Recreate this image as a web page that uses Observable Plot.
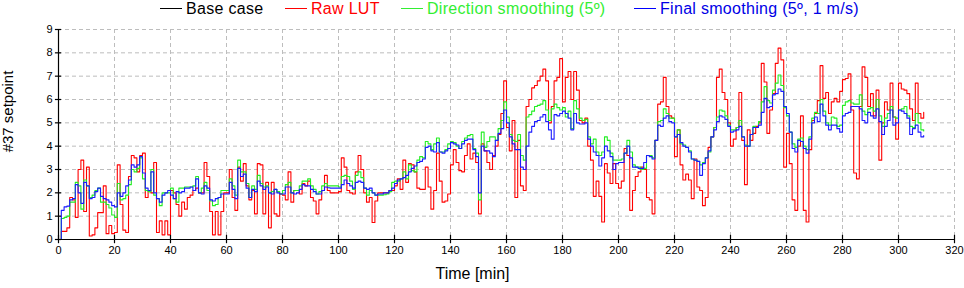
<!DOCTYPE html>
<html><head><meta charset="utf-8">
<script src="https://cdn.jsdelivr.net/npm/d3@7"></script>
<script src="https://cdn.jsdelivr.net/npm/@observablehq/plot@0.6"></script>
<style>
body{margin:0;background:#fff;font-family:"Liberation Sans",Arial,sans-serif}
#wrap{position:relative;width:964px;height:288px;overflow:hidden;background:#fff}
#legend{position:relative;height:18px}
.item{position:absolute;top:0px;font-size:16px;line-height:normal;letter-spacing:0.3px;white-space:nowrap}
.sw{position:absolute;top:8px;height:1px;width:22px}
#chart svg{display:block}
</style></head><body>
<div id="wrap"><div id="legend"></div><div id="chart"></div></div>
<script>
const legendLabels = ["Base case", "Raw LUT", "Direction smoothing (5º)", "Final smoothing (5º, 1 m/s)"];
const legendColors = ["#000000", "#ff0000", "#33ee33", "#0000ff"];
const legendTextColors = ["#000000", "#ff0000", "#33ee33", "#0000e6"];
const legendLeft = [160, 285, 401, 634];

const xTicks = [0, 20, 40, 60, 80, 100, 120, 140, 160, 180, 200, 220, 240, 260, 280, 300, 320];
const yTicks = [0, 1, 2, 3, 4, 5, 6, 7, 8, 9];

const rawLUT = [
0, 0.35, 0.35, 0.5, 1.8, 1.7, 0.95, 3.0, 3.4, 1.2,
3.1, 0.15, 0.2, 0.5, 1.15, 1.15, 2.3, 0.25, 0.6, 0.25,
0.3, 3.2, 1.5, 0.4, 0.3, 2.7, 3.6, 3.5, 2.9, 3.6,
3.7, 1.8, 2.1, 2.0, 3.3, 0.3, 0.8, 0.2, 0.8, 0.2,
2.1, 2.0, 1.5, 1.0, 1.6, 1.3, 1.8, 1.9, 2.1, 2.2,
2.0, 2.0, 3.3, 2.7, 1.2, 0.2, 1.2, 0.2, 1.2, 2.0,
2.0, 3.0, 1.8, 1.25, 3.1, 2.5, 3.25, 2.3, 1.7, 2.1,
1.1, 3.25, 3.2, 1.1, 2.45, 0.5, 2.45, 1.1, 1.0, 1.95,
1.9, 1.7, 2.9, 1.6, 2.1, 2.1, 1.95, 2.4, 2.3, 2.5,
1.8, 1.65, 1.1, 1.7, 2.1, 2.75, 2.1, 2.0, 2.0, 2.0,
2.05, 3.5, 3.1, 2.1, 2.0, 1.95, 2.9, 3.6, 3.0, 2.0,
1.6, 1.8, 0.73, 1.65, 2.0, 2.0, 2.0, 2.0, 2.1, 2.1,
2.3, 2.6, 2.15, 3.4, 2.45, 3.25, 3.2, 2.9, 2.2, 2.15,
2.15, 3.1, 2.25, 1.3, 2.1, 3.7, 2.5, 1.6, 1.65, 1.95,
3.2, 3.85, 3.3, 2.95, 2.9, 3.6, 4.1, 3.45, 3.7, 3.3,
1.1, 4.1, 3.8, 3.3, 3.0, 3.6, 4.0, 4.5, 5.4, 6.8,
4.8, 3.8, 5.1, 1.8, 4.25, 2.3, 2.1, 5.7, 6.0, 6.5,
6.6, 6.8, 7.0, 7.3, 6.8, 5.0, 5.7, 6.8, 6.95, 7.75,
5.9, 6.95, 7.2, 6.0, 7.2, 6.4, 5.1, 5.0, 5.2, 4.0,
3.4, 1.85, 2.5, 1.85, 0.75, 3.25, 2.85, 2.4, 3.25, 2.4,
2.2, 2.5, 3.9, 3.6, 1.25, 2.1, 2.7, 2.9, 3.1, 3.0,
1.8, 1.7, 1.1, 4.25, 5.8, 5.9, 6.95, 5.7, 5.3, 5.2,
3.55, 4.7, 3.2, 2.55, 2.8, 2.55, 1.75, 3.45, 2.25, 2.1,
1.45, 1.8, 3.95, 4.4, 4.8, 6.95, 7.3, 6.3, 6.0, 5.0,
4.0, 4.3, 4.8, 6.3, 4.25, 2.35, 4.7, 4.25, 4.55, 4.85,
5.0, 7.55, 6.75, 4.55, 5.55, 6.25, 7.55, 8.2, 7.7, 3.1,
4.55, 3.25, 1.7, 1.25, 4.0, 5.3, 1.25, 0.75, 3.85, 5.1,
5.4, 5.95, 7.45, 6.05, 6.3, 5.4, 5.9, 6.05, 5.9, 6.35,
6.85, 6.9, 7.1, 5.55, 2.85, 2.6, 5.7, 7.4, 6.95, 5.7,
6.25, 5.3, 6.4, 3.4, 5.0, 5.9, 5.55, 6.7, 5.25, 4.3,
6.7, 6.45, 6.4, 6.25, 5.6, 5.1, 6.7, 5.4, 5.2, 5.45
];

const directionSmoothing = [
0, 0.9, 0.95, 1.0, 1.6, 1.6, 2.45, 2.3, 1.3, 2.55,
2.3, 1.8, 1.9, 2.1, 2.2, 1.6, 1.6, 1.5, 1.35, 1.05,
0.95, 2.4, 1.7, 1.75, 1.9, 2.35, 3.0, 2.9, 3.05, 3.5,
2.6, 2.1, 2.05, 3.0, 1.9, 1.75, 1.45, 2.0, 2.0, 2.0,
2.2, 1.75, 1.6, 2.2, 2.2, 2.25, 2.25, 2.25, 2.3, 2.7,
2.0, 2.2, 2.45, 2.1, 1.65, 1.45, 1.5, 1.8, 2.1, 2.1,
2.1, 2.6, 2.3, 1.9, 3.4, 2.9, 2.9, 2.4, 1.8, 2.3,
2.15, 2.75, 2.4, 2.25, 2.3, 2.0, 2.05, 2.15, 2.05, 1.95,
2.1, 2.35, 2.45, 2.0, 2.1, 2.1, 2.3, 2.5, 2.5, 2.6,
2.3, 2.15, 1.95, 2.05, 2.3, 2.4, 2.3, 2.3, 2.3, 2.3,
2.25, 2.7, 2.75, 2.7, 2.5, 2.15, 2.75, 2.9, 2.65, 2.2,
1.9, 2.1, 2.0, 1.9, 1.9, 1.9, 1.92, 1.95, 2.05, 2.45,
2.5, 2.5, 2.6, 2.9, 2.6, 3.2, 2.95, 2.9, 3.4, 3.55,
3.5, 4.2, 4.1, 3.85, 4.1, 4.35, 3.75, 3.75, 3.85, 4.1,
4.2, 4.15, 4.0, 3.9, 4.2, 4.35, 4.45, 4.5, 3.9, 3.7,
1.7, 4.6, 3.95, 4.2, 4.4, 4.4, 4.25, 4.75, 5.1, 5.9,
5.25, 4.5, 4.25, 4.2, 4.5, 3.6, 3.4, 5.25, 5.35, 5.5,
5.7, 5.75, 5.8, 5.95, 5.55, 5.1, 5.6, 5.8, 5.65, 5.55,
5.65, 5.25, 5.5, 4.75, 5.95, 5.6, 5.2, 5.1, 5.15, 4.4,
4.1, 4.3, 3.75, 3.6, 3.75, 4.4, 4.25, 3.7, 3.4, 3.4,
3.4, 3.45, 3.7, 4.25, 3.75, 3.2, 3.1, 3.1, 3.0, 3.05,
3.6, 3.6, 3.5, 4.25, 5.05, 5.1, 5.6, 5.4, 5.2, 5.2,
4.4, 4.7, 4.1, 4.05, 3.95, 3.8, 3.45, 3.4, 3.35, 3.2,
3.3, 3.5, 3.75, 4.4, 4.8, 5.25, 5.55, 5.5, 5.3, 4.9,
4.7, 4.7, 4.8, 5.1, 4.4, 4.05, 4.0, 4.5, 4.85, 4.8,
5.05, 5.9, 6.55, 5.95, 5.85, 6.4, 6.7, 7.05, 6.6, 5.65,
5.3, 4.6, 4.1, 3.95, 4.3, 4.35, 4.0, 3.85, 4.4, 5.2,
5.45, 5.4, 6.0, 5.5, 5.0, 4.9, 5.25, 5.2, 4.85, 4.9,
5.75, 5.9, 5.95, 5.85, 5.8, 5.8, 6.2, 5.5, 5.35, 5.6,
5.65, 5.5, 6.0, 5.3, 4.85, 5.2, 5.4, 5.7, 5.25, 5.2,
5.55, 5.6, 5.7, 5.3, 4.85, 4.8, 5.4, 5.0, 4.7, 4.65
];

const finalSmoothing = [
0, 1.25, 1.4, 1.43, 1.7, 1.75, 2.35, 2.0, 1.55, 2.45,
2.3, 1.75, 1.8, 2.05, 2.2, 1.85, 1.75, 1.7, 1.6, 1.45,
1.4, 2.0, 1.85, 2.0, 2.3, 2.55, 3.2, 3.1, 3.2, 3.55,
2.85, 2.2, 2.1, 2.9, 2.0, 1.75, 1.6, 1.9, 2.0, 2.1,
1.9, 1.75, 2.05, 2.0, 2.05, 2.2, 2.2, 2.25, 2.1, 2.6,
2.0, 1.95, 2.3, 2.2, 1.7, 1.65, 1.75, 1.8, 1.95, 1.95,
1.95, 2.45, 2.15, 1.75, 3.05, 2.7, 2.8, 2.2, 1.8, 2.15,
2.05, 2.5, 2.3, 2.15, 2.25, 2.0, 1.95, 2.15, 2.0, 1.95,
1.95, 2.25, 2.25, 2.0, 1.95, 2.0, 2.15, 2.35, 2.3, 2.3,
2.15, 2.05, 1.95, 1.95, 2.1, 2.25, 2.22, 2.2, 2.2, 2.2,
2.2, 2.35, 2.55, 2.4, 2.3, 2.2, 2.45, 2.5, 2.45, 2.2,
2.15, 2.2, 2.0, 1.9, 1.95, 1.95, 2.0, 2.0, 2.1, 2.2,
2.4, 2.55, 2.6, 2.65, 2.75, 2.9, 3.05, 3.15, 3.3, 3.35,
3.45, 3.95, 4.0, 3.8, 3.75, 4.15, 3.75, 3.7, 3.8, 3.9,
4.15, 4.1, 4.05, 3.9, 4.1, 4.25, 4.3, 4.3, 3.85, 3.55,
2.0, 4.0, 3.8, 3.8, 3.7, 3.55, 4.25, 4.55, 4.75, 5.55,
5.0, 4.4, 4.1, 3.85, 3.85, 3.1, 3.0, 4.0, 4.6, 4.85,
5.05, 5.1, 5.25, 5.35, 5.05, 4.7, 4.3, 5.35, 5.3, 5.4,
5.5, 5.4, 5.2, 4.7, 5.4, 5.0, 4.95, 4.95, 5.0, 4.3,
4.0, 3.75, 3.6, 3.15, 3.5, 4.0, 3.8, 3.55, 3.0, 3.25,
3.3, 3.3, 3.7, 4.0, 3.5, 3.1, 3.1, 3.05, 3.05, 3.3,
3.6, 3.55, 3.45, 4.25, 4.9, 4.85, 5.2, 5.3, 5.05, 5.0,
4.4, 4.5, 4.15, 4.0, 3.95, 3.75, 3.45, 3.4, 3.35, 2.75,
3.25, 3.5, 3.8, 4.4, 4.7, 5.05, 5.3, 5.25, 5.15, 4.85,
4.6, 4.65, 4.7, 4.85, 4.4, 4.0, 4.0, 4.5, 4.8, 4.8,
4.9, 5.45, 6.05, 5.65, 5.7, 6.2, 6.25, 6.45, 6.35, 5.7,
5.4, 4.6, 3.9, 3.75, 4.25, 4.2, 3.9, 3.7, 4.3, 5.0,
5.25, 5.05, 5.8, 5.3, 4.9, 4.7, 4.9, 4.9, 4.75, 4.6,
5.3, 5.4, 5.45, 5.7, 5.7, 5.7, 5.6, 5.1, 5.0, 5.45,
5.3, 5.2, 5.6, 5.05, 4.5, 4.85, 5.1, 5.55, 4.9, 5.0,
5.55, 5.5, 5.4, 5.2, 4.5, 4.75, 4.9, 4.6, 4.4, 4.45
];

// legend (HTML, above the SVG)
const legend = document.getElementById("legend");
legendLabels.forEach((lab, i) => {
  const sw = document.createElement("div");
  sw.className = "sw";
  sw.style.left = legendLeft[i] + "px";
  sw.style.background = legendColors[i];
  legend.appendChild(sw);
  const tx = document.createElement("div");
  tx.className = "item";
  tx.style.left = (legendLeft[i] + 26) + "px";
  tx.style.color = legendTextColors[i];
  tx.textContent = lab;
  legend.appendChild(tx);
});

const minutes = d3.range(rawLUT.length);
const toRows = (arr) => minutes.map(t => ({t, v: arr[t]}));

const chart = Plot.plot({
  width: 964,
  height: 270,
  marginTop: 11,
  marginBottom: 49,
  marginLeft: 58,
  marginRight: 10,
  style: {fontFamily: '"Liberation Sans", Arial, sans-serif', fontSize: "11px", color: "black", background: "white", overflow: "visible"},
  x: {domain: [0, 320]},
  y: {domain: [0, 9]},
  marks: [
    Plot.ruleY(yTicks.slice(1), {y: d => d, stroke: "#bdbdbd", strokeDasharray: "4,3"}),
    Plot.ruleX(xTicks.slice(1), {x: d => d, stroke: "#bdbdbd", strokeDasharray: "4,3"}),
    Plot.line(toRows(rawLUT), {x: "t", y: "v", curve: "step-after", stroke: "#ff0000", strokeWidth: 1.1}),
    Plot.line(toRows(directionSmoothing), {x: "t", y: "v", curve: "step-after", stroke: "#22ee22", strokeWidth: 1.1}),
    Plot.line(toRows(finalSmoothing), {x: "t", y: "v", curve: "step-after", stroke: "#1a1aff", strokeWidth: 1.1}),
    Plot.ruleY([0], {stroke: "black", strokeWidth: 1.2}),
    Plot.ruleX([0], {stroke: "black", strokeWidth: 1.2}),
    Plot.ruleX(xTicks, {x: d => d, y1: -0.18, y2: 0.18, stroke: "black", strokeWidth: 1.2}),
    Plot.ruleY(yTicks, {y: d => d, x1: -1.1, x2: 1.1, stroke: "black", strokeWidth: 1.2}),
    Plot.axisX({ticks: xTicks, tickSize: 0, tickPadding: 7, label: null, fontSize: 11}),
    Plot.axisY({ticks: yTicks, tickSize: 0, tickPadding: 6, label: null, fontSize: 11}),
    Plot.text(["#37 setpoint"], {frameAnchor: "left", textAnchor: "middle", lineAnchor: "middle", dx: -50, dy: -23, rotate: -90, fontSize: 15, fill: "black"}),
    Plot.text(["Time [min]"], {frameAnchor: "bottom", textAnchor: "middle", lineAnchor: "middle", dx: -34, dy: 34, fontSize: 16, fill: "black"})
  ]
});
document.getElementById("chart").appendChild(chart);
</script>
</body></html>
